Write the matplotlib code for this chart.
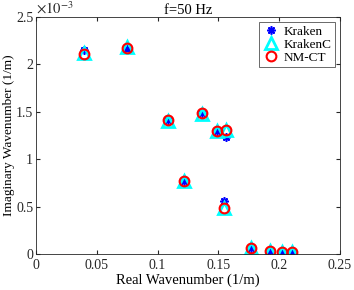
import numpy as np
import matplotlib.pyplot as plt

plt.rcParams['font.family'] = ['Liberation Serif', 'DejaVu Serif']
plt.rcParams['mathtext.fontset'] = 'stix'

# real / imaginary wavenumbers (imag in units of 1e-3 1/m)
kr_real = [0.0392, 0.0748, 0.1086, 0.1365, 0.1490, 0.1565, 0.1214, 0.1549, 0.1768, 0.1924, 0.2023, 0.2103]
kr_imag = [2.150, 2.160, 1.413, 1.484, 1.297, 1.231, 0.773, 0.559, 0.067, 0.032, 0.025, 0.022]

krc_real = [0.0392, 0.0748, 0.1086, 0.1365, 0.1490, 0.1565, 0.1214, 0.1549, 0.1768, 0.1924, 0.2023, 0.2103]
krc_imag = [2.125, 2.180, 1.405, 1.480, 1.295, 1.310, 0.775, 0.490, 0.067, 0.032, 0.025, 0.022]

nm_real = [0.0392, 0.0748, 0.1086, 0.1365, 0.1490, 0.1565, 0.1214, 0.1549, 0.1768, 0.1924, 0.2023, 0.2103]
nm_imag = [2.107, 2.176, 1.413, 1.484, 1.297, 1.308, 0.773, 0.482, 0.067, 0.032, 0.025, 0.022]

fig = plt.figure(figsize=(3.54, 2.90), dpi=100)
ax = fig.add_axes([36/354, 36/290, 304/354, 237/290])

ax.plot(kr_real, np.array(kr_imag)*1e-3, ls='none', marker=(8, 2, 0), ms=6, mew=1.2,
        color='blue', label='Kraken')
ax.plot(krc_real, np.array(krc_imag)*1e-3, ls='none', marker='^', ms=9, mew=2,
        mfc='none', mec='cyan', label='KrakenC')
ax.plot(nm_real, np.array(nm_imag)*1e-3, ls='none', marker='o', ms=7, mew=1.5,
        mfc='none', mec='red', label='NM-CT')

ax.set_xlim(0, 0.25)
ax.set_ylim(0, 2.5e-3)
ax.set_xticks([0, 0.05, 0.1, 0.15, 0.2, 0.25])
ax.set_xticklabels(['0', '0.05', '0.1', '0.15', '0.2', '0.25'])
ax.set_yticks(np.arange(0, 2.6e-3, 0.5e-3))
ax.set_yticklabels(['0', '0.5', '1', '1.5', '2', '2.5'])
ax.text(0, 1.003, r'$\times10^{-3}$', transform=ax.transAxes, fontsize=10.5,
        va='bottom', ha='left', color='#262626')

ax.tick_params(direction='in', top=True, right=True, labelsize=10, colors='#262626',
               length=3)
ax.tick_params(axis='y', pad=2)
for s in ax.spines.values():
    s.set_color('#262626')
    s.set_linewidth(0.6)

ax.set_xlabel('Real Wavenumber (1/m)', fontsize=10.5, labelpad=1)
ax.set_ylabel('Imaginary Wavenumber (1/m)', fontsize=9.5, labelpad=1)
ax.yaxis.set_label_coords(-0.07, 0.5)
ax.set_title('f=50 Hz', fontsize=10.5, pad=2)

leg = ax.legend(loc='upper right', fontsize=9.5, fancybox=False, edgecolor='#262626',
                handletextpad=0.3, borderpad=0.25, labelspacing=0.05, handlelength=1.3,
                borderaxespad=0.4)
leg.get_frame().set_linewidth(0.6)

fig.savefig('out.png', dpi=100)
